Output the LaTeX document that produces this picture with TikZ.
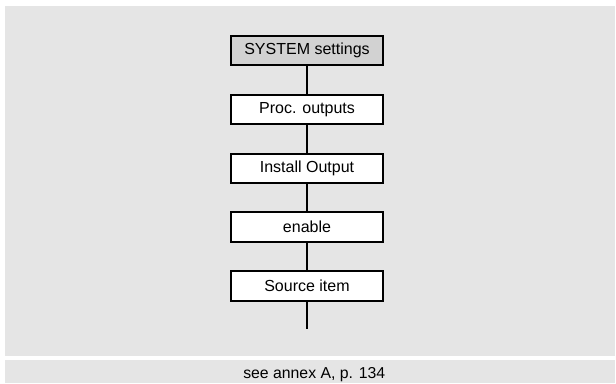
\documentclass[tikz,border=0pt]{standalone}
\usepackage{fontspec}
\setmainfont{Liberation Sans}
\definecolor{panel}{RGB}{229,229,229}
\definecolor{headfill}{RGB}{210,210,210}
\begin{document}
\begin{tikzpicture}[x=1bp,y=-1bp,
  stepbox/.style={draw=black,line width=2bp,fill=white,minimum width=152bp,minimum height=29.5bp,inner sep=0pt,font=\fontsize{16bp}{18bp}\selectfont},
  headbox/.style={stepbox,fill=headfill},
  link/.style={line width=2bp,draw=black}]
\useasboundingbox (0,0) rectangle (616,383);
\fill[white] (0,0) rectangle (616,383);
\fill[panel] (5,6) rectangle (615,356);
\fill[panel] (5,359.5) rectangle (615,383);
\node[headbox] (n1) at (307,50.5) {SYSTEM settings};
\node[stepbox] (n2) at (307,109.5) {Proc. outputs};
\node[stepbox] (n3) at (307,168.3) {Install Output};
\node[stepbox] (n4) at (307,226.8) {enable};
\node[stepbox] (n5) at (307,285.8) {Source item};
\coordinate (end) at (307,329);
\draw[link] (n1.south) -- (n2.north);
\draw[link] (n2.south) -- (n3.north);
\draw[link] (n3.south) -- (n4.north);
\draw[link] (n4.south) -- (n5.north);
\draw[link] (n5.south) -- (end);
\node[font=\fontsize{15.8bp}{18bp}\selectfont,anchor=base,inner sep=0pt] (foot) at (314.3,378) {see annex A, p. 134};
\end{tikzpicture}
\end{document}
